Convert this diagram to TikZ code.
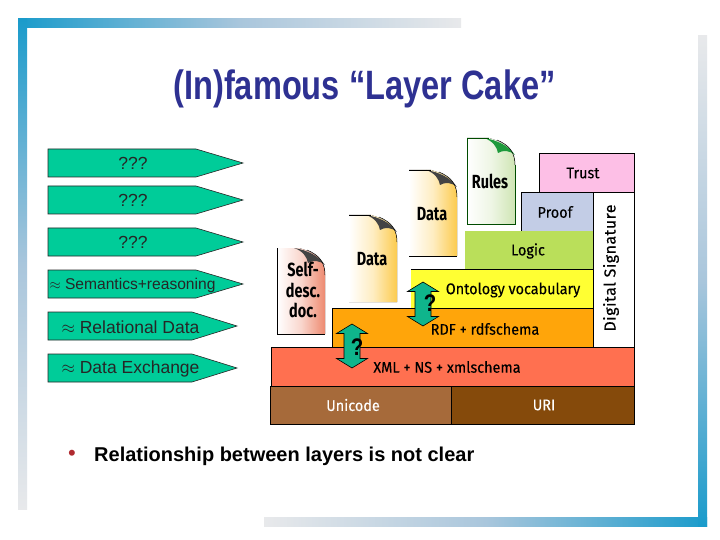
\documentclass[tikz,border=0pt]{standalone}
\usepackage{fontspec}
\setmainfont{Liberation Sans}
\newfontfamily\cakefont[FakeStretch=0.93,FakeBold=0.25]{Fira Sans}
\newfontfamily\sigfont[LetterSpace=3,FakeBold=0.25]{Fira Sans}
\newfontfamily\docfont[FakeStretch=0.76]{Fira Sans}
\usetikzlibrary{calc}
\definecolor{barblue}{HTML}{1A9BCB}
\definecolor{barmid}{HTML}{A9C6DC}
\definecolor{barpale}{HTML}{E8E9EB}
\definecolor{titleblue}{HTML}{2E3192}
\definecolor{tagteal}{HTML}{00CC99}
\definecolor{arrowteal}{HTML}{0FB58C}
\definecolor{cUnicode}{HTML}{A66A3A}
\definecolor{cURI}{HTML}{854A0B}
\definecolor{cXML}{HTML}{FF7050}
\definecolor{cRDF}{HTML}{FFA50A}
\definecolor{cOnt}{HTML}{FFFF33}
\definecolor{cLogic}{HTML}{BADF5A}
\definecolor{cProof}{HTML}{C3CDE6}
\definecolor{cTrust}{HTML}{FDBFE6}
\definecolor{docYellow}{HTML}{FCCB4E}
\definecolor{docRed}{HTML}{EE8A70}
\definecolor{docGreen}{HTML}{CFE5B4}
\definecolor{foldgrey}{HTML}{444444}
\definecolor{foldgreen}{HTML}{1E9A3C}
\definecolor{bulletred}{HTML}{B02A30}
\tikzset{
  tagshape/.style={draw=black!85,line width=.6pt,fill=tagteal},
  tagtext/.style={font=\fontsize{17.5}{19}\selectfont,text=black!85,anchor=center,inner sep=0},
  layer/.style={draw=black,line width=.7pt},
  cake/.style={font=\cakefont\fontsize{15.5}{17}\selectfont,inner sep=0,anchor=center},
  doctext/.style={font=\docfont\bfseries\fontsize{19}{20}\selectfont,inner sep=0,align=center},
  updown/.style={draw=black,line width=.6pt,fill=arrowteal},
  qmark/.style={font=\bfseries\fontsize{24}{26}\selectfont,inner sep=0,text=black,xscale=.85}
}
% tag arrow: #1 top y, #2 shoulder x, #3 tip x
\newcommand{\tagarrow}[3]{\draw[tagshape] (48,#1) -- (#2,#1) -- (#3,#1+14) -- (#2,#1+28) -- (48,#1+28) -- cycle;}
% document body: #1 left, #2 top, #3 bottom, #4 colour, #5 fold colour
\newcommand{\docbody}[5]{%
  \fill[left color=white,right color=#4,middle color=white!65!#4]
    (#1,#2) -- (#1+22,#2) .. controls (#1+36,#2+4) and (#1+48,#2+10) .. (#1+48,#2+27) -- (#1+48,#3) -- (#1,#3) -- cycle;
  \fill[#5] (#1+17,#2) .. controls (#1+30,#2+2) and (#1+42,#2+8) .. (#1+48,#2+17)
     .. controls (#1+42,#2+12) and (#1+36,#2+12) .. (#1+31,#2+15)
     .. controls (#1+30,#2+9) and (#1+26,#2+3) .. (#1+17,#2) -- cycle;
  \draw[line width=.5pt,black] (#1+48,#2+27) .. controls (#1+48,#2+14) and (#1+42,#2+7) .. (#1+30,#2+2);
}
\newcommand{\uparrowdouble}[2]{\draw[updown] (#1,#2) -- (#1+15.5,#2+9.5) -- (#1+8,#2+9.5) -- (#1+8,#2+34.5) -- (#1+15.5,#2+34.5) -- (#1,#2+44) -- (#1-15.5,#2+34.5) -- (#1-8,#2+34.5) -- (#1-8,#2+9.5) -- (#1-15.5,#2+9.5) -- cycle;}
\begin{document}
\begin{tikzpicture}[x=1pt,y=-1pt]
\useasboundingbox (0,0) rectangle (720,540);
\fill[white] (0,0) rectangle (720,540);
% frame
\fill[left color=barblue,right color=barpale,middle color=barmid] (18,19) rectangle (461,28);
\fill[top color=barblue,bottom color=barpale,middle color=barmid] (18,19) rectangle (27,509);
\fill[left color=barpale,right color=barblue,middle color=barmid] (264,517) rectangle (707,526);
\fill[top color=barpale,bottom color=barblue,middle color=barmid] (698,36) rectangle (707,526);
% title
\node[font=\bfseries\fontsize{41}{44}\selectfont,text=titleblue,xscale=.795,inner sep=0] (title) at (364.5,89) {(In)famous “Layer Cake”};
% tags
\tagarrow{149}{196}{243}
\tagarrow{186}{196}{243}
\tagarrow{228}{196}{243}
\tagarrow{270}{196}{243}
\tagarrow{312}{192}{237}
\tagarrow{354}{192}{237}
\node[tagtext] (t1) at (133,163) {???};
\node[tagtext] (t2) at (133,200) {???};
\node[tagtext] (t3) at (133,242) {???};
\node[tagtext,font=\fontsize{15.6}{17}\selectfont] (t4) at (132.5,285) {$\approx$ Semantics+reasoning};
\node[tagtext] (t5) at (130.5,327) {$\approx$ Relational Data};
\node[tagtext] (t6) at (130.5,369) {$\approx$ Data Exchange};
% documents
\docbody{409}{170}{256}{docYellow}{foldgrey}
\draw[line width=.6pt] (409,170) -- (431,170) (409,256) -- (457,256);
\node[doctext] (d2) at (432,214) {Data};
\docbody{349}{215}{302}{docYellow}{foldgrey}
\draw[line width=.6pt] (349,215) -- (371,215);
\node[doctext] (d1) at (372,259) {Data};
\docbody{277}{248}{334}{docRed}{foldgrey}
\draw[line width=.6pt] (277,248) -- (277,334) -- (325,334);
\node[doctext,font=\docfont\bfseries\fontsize{19}{20.5}\selectfont] (d0) at (303,290) {Self-\\desc.\\doc.};
\docbody{467}{138}{224}{docGreen}{foldgreen}
\draw[line width=.5pt,black!70!green] (515,165) -- (515,224) -- (467,224) -- (467,138) -- (489,138);
\node[doctext] (d3) at (490,181) {Rules};
% layers
\draw[layer,fill=cUnicode] (270,386) rectangle (451,424);
\draw[layer,fill=cURI] (451,386) rectangle (634,424);
\fill[cXML] (271,347) rectangle (634,386);
\draw[layer] (271,386) -- (271,347) -- (634,347) -- (634,386);
\draw[layer,fill=cRDF] (332,347) -- (332,308) -- (593,308) -- (593,347);
\fill[cOnt] (411,269) rectangle (593,308);
\draw[layer] (411,269) -- (593,269) (411,308) -- (593,308);
\fill[cLogic] (465,231) rectangle (593,269);
\draw[layer] (465,269) -- (593,269);
\draw[layer,fill=cProof] (521,231) -- (521,192) -- (593,192) -- (593,231);
\draw[layer,fill=cTrust] (539,192) -- (539,153) -- (634,153) -- (634,192) -- cycle;
\draw[layer,fill=white] (593,192) rectangle (634,347);
% layer labels
\node[cake,text=white] (unicode) at (353,405) {Unicode};
\node[cake,text=white] (uri) at (544,405) {URI};
\node[cake] (xml) at (447,367) {XML + NS + xmlschema};
\node[cake] (rdf) at (485,329) {RDF + rdfschema};
\node[cake] (ont) at (513,290) {Ontology vocabulary};
\node[cake] (logic) at (528,251) {Logic};
\node[cake] (proof) at (555,212) {Proof};
\node[cake] (trust) at (583,173) {Trust};
\node[font=\sigfont\fontsize{16}{17}\selectfont,inner sep=0,rotate=90] (sig) at (611,268) {Digital Signature};
% double arrows
\uparrowdouble{352}{324}
\uparrowdouble{423}{282}
\node[qmark] (q1) at (357,347) {?};
\node[qmark] (q2) at (430,303) {?};
% bullet
\node[text=bulletred,inner sep=0,font=\fontsize{22}{22}\selectfont] (bul) at (72,455) {•};
\node[anchor=west,inner sep=0,font=\bfseries\fontsize{20}{22}\selectfont] (bt) at (94,456) {Relationship between layers is not clear};
\end{tikzpicture}
\end{document}
